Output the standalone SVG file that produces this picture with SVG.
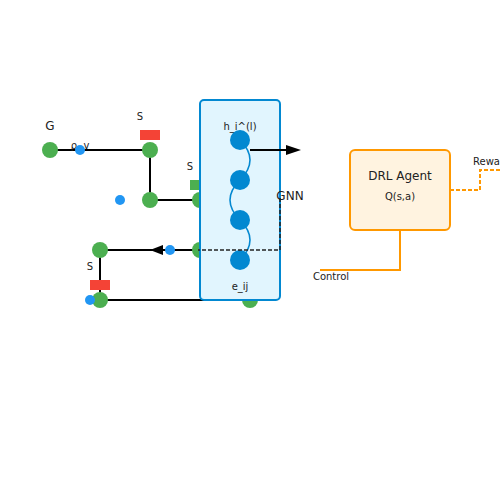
<svg xmlns="http://www.w3.org/2000/svg" width="500" height="500" viewBox="0 0 500 500">
<defs>
<style>
text{font-family:"DejaVu Sans","Liberation Sans",sans-serif;fill:#222;text-anchor:middle}
.ln{stroke:#000;stroke-width:2;fill:none}
.bus{fill:#4caf50}
.pt{fill:#2196f3}
.gn{fill:#0288d1}
.wave{stroke:#0288d1;stroke-width:1.5;fill:none}
.dash{stroke:#222;stroke-width:1.5;stroke-dasharray:4,2;fill:none}
.or{stroke:#ff9800;stroke-width:2;fill:none}
.ord{stroke:#ff9800;stroke-width:2;fill:none;stroke-dasharray:4,2}
</style>
</defs>
<g id="connectors">
<path class="ln" d="M50,150 H150 V200 H200"/>
<path class="ln" d="M100,250 V300 H250"/>
<path class="ln" d="M200,250 H100"/>
<path d="M163,245 L150,250 L163,255 z" fill="#000"/>
</g>
<g id="labels-grid">
<text x="50" y="130" font-size="12">G</text>
<text x="80" y="149" font-size="10">ρ, v</text>
<text x="140" y="120" font-size="10">S</text>
<text x="190" y="170" font-size="10">S</text>
<text x="90" y="270" font-size="10">S</text>
</g>
<g id="buses">
<circle class="bus" cx="50" cy="150" r="8"/>
<circle class="bus" cx="150" cy="150" r="8"/>
<circle class="bus" cx="150" cy="200" r="8"/>
<circle class="bus" cx="200" cy="200" r="8"/>
<circle class="bus" cx="100" cy="250" r="8"/>
<circle class="bus" cx="200" cy="250" r="8"/>
<circle class="bus" cx="100" cy="300" r="8"/>
<circle class="bus" cx="250" cy="300" r="8"/>
</g>
<g id="switches">
<rect x="140" y="130" width="20" height="10" fill="#f44336"/>
<rect x="90" y="280" width="20" height="10" fill="#f44336"/>
<rect x="190" y="180" width="20" height="10" fill="#4caf50"/>
</g>
<g id="points">
<circle class="pt" cx="80" cy="150" r="5"/>
<circle class="pt" cx="120" cy="200" r="5"/>
<circle class="pt" cx="170" cy="250" r="5"/>
<circle class="pt" cx="90" cy="300" r="5"/>
</g>
<g id="gnn">
<rect x="200" y="100" width="80" height="200" rx="4" fill="#e1f5fe" stroke="#0288d1" stroke-width="2"/>
<path class="wave" d="M240,140 Q260,160 240,180 Q220,200 240,220 Q260,240 240,260"/>
<text x="240" y="130" font-size="10">h_i^(l)</text>
<circle class="gn" cx="240" cy="140" r="10"/>
<circle class="gn" cx="240" cy="180" r="10"/>
<circle class="gn" cx="240" cy="220" r="10"/>
<circle class="gn" cx="240" cy="260" r="10"/>
<text x="240" y="290" font-size="10">e_ij</text>
<text x="290" y="200" font-size="12">GNN</text>
</g>
<g id="gnn-links">
<path class="dash" d="M280,198 V250 H198"/>
<path d="M250,150 H287" stroke="#000" stroke-width="2"/>
<path d="M286,145 L301,150 L286,155 z" fill="#000"/>
</g>
<g id="drl">
<rect x="350" y="150" width="100" height="80" rx="5" fill="#fff3e0" stroke="#ff9800" stroke-width="2"/>
<text x="400" y="180" font-size="12">DRL Agent</text>
<text x="400" y="200" font-size="10">Q(s,a)</text>
</g>
<g id="drl-links">
<path class="or" d="M400,230 V270 H320"/>
<text x="331" y="280" font-size="10">Control</text>
<path class="ord" d="M450,190 H480 V170 H500"/>
<text x="473" y="165" font-size="10" style="text-anchor:start">Reward</text>
</g>
</svg>
